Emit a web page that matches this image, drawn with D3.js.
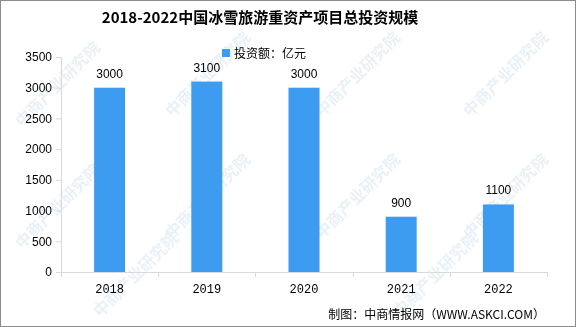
<!DOCTYPE html>
<html>
<head>
<meta charset="utf-8">
<script src="https://cdn.jsdelivr.net/npm/d3@7"></script>
<style>
  body { margin: 0; background: #fff; }
  svg { display: block; font-family: "Noto Sans CJK SC", "DejaVu Sans", sans-serif; }
</style>
</head>
<body>
<script>
// Data
var years = ["2018", "2019", "2020", "2021", "2022"];
var investment = [3000, 3100, 3000, 900, 1100];
var yTicks = [0, 500, 1000, 1500, 2000, 2500, 3000, 3500];

var W = 576, H = 327;
var margin = {top: 57, bottom: 55, left: 61, right: 29};

var svg = d3.select("body").append("svg")
    .attr("width", W)
    .attr("height", H);

// Border
svg.append("rect")
    .attr("x", 0.5).attr("y", 0.5)
    .attr("width", W - 1).attr("height", H - 1)
    .attr("fill", "#fff")
    .attr("stroke", "#8c8c8c");

// Watermarks (faint, diagonal)
var wm = svg.append("g").attr("fill", "#d3e3ef").attr("opacity", 0.5)
    .style("font-size", "16px").style("font-weight", "bold");
[[22, 128], [172, 118], [322, 118], [470, 118], [22, 250], [172, 240], [322, 240], [470, 240], [100, 318], [400, 318]].forEach(function(p) {
    wm.append("text")
        .attr("transform", "translate(" + p[0] + "," + p[1] + ") rotate(-45)")
        .text("中商产业研究院");
});

// Scales
var xScale = d3.scaleBand()
    .domain(years)
    .range([margin.left, W - margin.right]);
var yScale = d3.scaleLinear()
    .domain([0, 3500])
    .range([H - margin.bottom, margin.top]);

var axisColor = "#d9d9d9";

// Y axis
var yAxis = svg.append("g")
    .attr("transform", "translate(" + margin.left + ",0)")
    .call(d3.axisLeft(yScale).tickValues(yTicks).tickFormat(d3.format("d")).tickSize(5).tickPadding(4));
yAxis.select(".domain").attr("stroke", axisColor);
yAxis.selectAll(".tick line").attr("stroke", axisColor);
yAxis.selectAll("text").attr("fill", "#000").style("font-size", "12px")
    .style("font-family", "\"Liberation Sans\", sans-serif");

// X axis
var xAxis = svg.append("g")
    .attr("transform", "translate(0," + (H - margin.bottom) + ")")
    .call(d3.axisBottom(xScale).tickSize(0).tickPadding(12));
xAxis.select(".domain").attr("stroke", axisColor);
xAxis.selectAll("text").attr("fill", "#000").style("font-size", "12px")
    .style("font-family", "\"Liberation Mono\", monospace");
// band boundary ticks
xAxis.selectAll(".bticks")
    .data(years.concat(["end"]))
    .enter().append("line")
    .attr("x1", function(d, i) { return Math.round(margin.left + i * xScale.bandwidth()) + 0.5; })
    .attr("x2", function(d, i) { return Math.round(margin.left + i * xScale.bandwidth()) + 0.5; })
    .attr("y1", 0).attr("y2", 5)
    .attr("stroke", axisColor);

// Bars
var barW = 31;
svg.selectAll(".bar")
    .data(investment)
    .enter().append("rect")
    .attr("class", "bar")
    .attr("x", function(d, i) { return xScale(years[i]) + xScale.bandwidth() / 2 - barW / 2; })
    .attr("width", barW)
    .attr("y", function(d) { return yScale(d); })
    .attr("height", function(d) { return yScale(0) - yScale(d); })
    .attr("fill", "#3d9cf0");

// Value labels
svg.selectAll(".val")
    .data(investment)
    .enter().append("text")
    .attr("x", function(d, i) { return xScale(years[i]) + xScale.bandwidth() / 2; })
    .attr("y", function(d) { return yScale(d) - 10; })
    .attr("text-anchor", "middle")
    .style("font-size", "12px")
    .style("font-family", "\"Liberation Sans\", sans-serif")
    .text(function(d) { return d; });

// Title
svg.append("text")
    .attr("x", 260).attr("y", 23)
    .attr("text-anchor", "middle")
    .style("font-size", "15px")
    .style("font-weight", "bold")
    .text("2018-2022中国冰雪旅游重资产项目总投资规模");

// Legend
svg.append("rect")
    .attr("x", 222).attr("y", 49)
    .attr("width", 8).attr("height", 8)
    .attr("fill", "#3d9cf0");
svg.append("text")
    .attr("x", 234).attr("y", 58)
    .style("font-size", "12px")
    .text("投资额：亿元");

// Source
svg.append("text")
    .attr("x", 545).attr("y", 319)
    .attr("text-anchor", "end")
    .style("font-size", "12px")
    .text("制图：中商情报网（WWW.ASKCI.COM）");
</script>
</body>
</html>
